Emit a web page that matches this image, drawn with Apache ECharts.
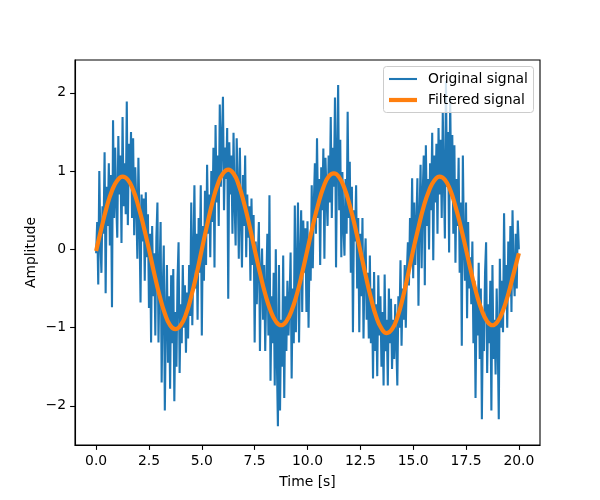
<!DOCTYPE html>
<html>
<head>
<meta charset="utf-8">
<script src="https://cdn.jsdelivr.net/npm/echarts@6/dist/echarts.min.js"></script>
<style>html,body{margin:0;padding:0;background:#fff}#c{width:600px;height:500px}</style>
</head>
<body>
<div id="c"></div>
<script>
// Sampling step of the original signal (s)
const sampleStep = 0.05;
// Original (noisy) signal, one value every 0.05 s from 0 to 20 s
const originalSignal = [
-0.05,0.35,-0.45,1.00,0.10,-0.30,0.55,0.20,1.24,-0.56,0.80,0.30,1.10,0.05,0.95,-0.74,1.65,0.40,1.30,0.60,
0.15,1.45,0.70,1.20,0.08,1.69,0.55,1.10,0.45,1.89,0.31,1.35,0.85,1.50,0.40,1.42,0.18,1.05,0.60,-0.12,
1.17,0.35,-0.68,0.70,0.10,0.65,-0.40,0.73,-0.10,0.45,-0.75,
0.20,-1.19,0.30,-0.60,-0.05,-1.10,0.15,0.60,-1.19,-0.30,0.35,-1.70,-0.55,0.05,-2.06,-0.90,-0.20,-1.45,-0.60,
-1.78,-0.33,-1.20,-0.25,-1.94,-0.80,-1.50,-0.40,0.09,-1.58,-0.70,-1.20,-0.20,-1.00,-0.46,-1.32,-0.55,-1.14,-0.20,-0.85,
0.60,-0.97,-0.10,0.82,-0.50,0.20,-0.90,0.40,-0.30,0.82,-1.10,
0.30,-0.40,0.75,-0.20,1.08,0.20,0.70,-0.10,1.00,0.35,1.30,-0.23,1.59,0.60,1.20,0.30,1.85,0.80,1.40,1.95,
0.50,1.30,0.90,1.55,-0.63,1.37,0.70,1.20,0.20,1.49,0.60,0.05,1.42,0.80,-0.12,1.30,0.40,-0.23,0.95,0.30,
1.20,-0.10,0.70,0.15,0.55,-0.40,0.65,-0.20,0.44,-1.19,
0.10,-0.70,-0.10,0.35,-1.30,-0.30,0.01,-0.90,-0.20,-1.30,-0.50,0.20,-1.10,0.69,-1.68,-0.60,-1.20,-0.30,-1.74,0.00,
-1.40,-2.26,-0.20,-2.06,-0.90,-1.50,-0.08,-1.90,-0.60,-1.30,-0.40,-1.10,-0.70,-0.04,-1.65,-0.50,-1.20,0.56,-1.06,-0.30,
0.60,-1.19,-0.10,0.50,-0.80,0.37,-0.30,0.27,-0.80,0.36,
-1.00,0.10,-0.40,0.82,-0.24,0.60,1.10,0.20,1.42,0.40,0.90,-0.20,1.05,0.50,1.29,-0.12,1.17,0.70,0.30,1.20,
0.60,1.69,0.40,1.30,0.80,1.94,-0.23,1.20,2.10,0.50,1.40,-0.10,0.99,0.30,-0.08,0.90,0.20,1.76,0.40,1.12,
-0.30,0.80,-1.06,0.50,0.10,0.82,-0.50,0.40,-1.06,0.20,
-0.60,0.40,-1.14,-0.20,0.14,-0.90,-0.30,-1.14,-0.08,-1.20,-0.50,-1.65,-0.29,-1.30,-0.70,-1.62,-0.33,-1.10,-0.60,-1.50,
-0.80,-1.74,-0.32,-1.30,-0.90,-1.74,-0.50,-1.20,-0.63,-1.53,-0.90,-1.40,-0.70,-1.20,-1.74,-0.60,-1.00,-0.14,-1.23,-0.50,
-0.90,-0.20,-1.00,-0.30,0.09,-0.46,0.40,-0.20,0.91,-0.37,
0.60,-0.20,0.30,0.91,-0.72,0.40,1.08,-0.24,0.70,1.20,-0.46,1.33,0.30,0.90,0.00,1.10,0.50,1.49,-0.14,1.20,
0.60,1.35,0.20,1.55,0.70,1.40,0.40,1.75,0.90,0.14,2.15,0.80,1.50,-0.04,1.95,0.69,1.46,0.20,1.33,-0.17,
0.90,0.30,1.17,-0.30,0.60,-1.23,1.20,0.10,-0.40,0.60,
-0.88,0.35,-0.50,-0.10,-0.70,0.10,-1.20,-0.40,-1.90,-0.60,-1.10,-0.17,-1.40,-0.50,-2.17,-0.80,-1.30,-0.30,0.09,-1.58,
-0.70,-1.20,-0.40,-2.06,-0.20,-1.40,-0.90,-1.60,-0.50,-1.20,-2.17,-0.12,-1.00,-0.40,-1.06,0.46,-0.70,-0.20,-1.00,0.10,
-0.60,0.30,-0.80,0.50,-0.30,-0.60,0.20,-0.50,0.37,0.00
];
// Filtered signal, one value every 0.25 s from 0 to 20 s
const filteredStep = 0.25;
const filteredSignal = [
-0.02,0.27,0.54,0.75,0.88,0.93,0.89,0.76,0.55,0.29,0.00,
-0.31,-0.59,-0.82,-0.97,-1.02,-0.97,-0.83,-0.60,-0.32,0.00,
0.31,0.60,0.83,0.97,1.02,0.97,0.82,0.59,0.31,0.00,
-0.30,-0.57,-0.78,-0.92,-0.97,-0.92,-0.78,-0.57,-0.30,0.00,
0.30,0.57,0.79,0.93,0.97,0.92,0.78,0.56,0.29,-0.02,
-0.33,-0.62,-0.86,-1.01,-1.07,-1.02,-0.87,-0.63,-0.33,-0.01,
0.28,0.55,0.75,0.88,0.93,0.89,0.76,0.55,0.29,0.00,
-0.30,-0.57,-0.78,-0.92,-0.97,-0.92,-0.78,-0.57,-0.31,-0.05
];
const xTicks = [0, 2.5, 5, 7.5, 10, 12.5, 15, 17.5, 20];
const yTicks = [-2, -1, 0, 1, 2];
const seriesNames = ['Original signal', 'Filtered signal'];

const origData = originalSignal.map((v, i) => [+(i * sampleStep).toFixed(2), v]);
const filtData = filteredSignal.map((v, i) => [+(i * filteredStep).toFixed(2), v]);

const font = 'DejaVu Sans';
const chart = echarts.init(document.getElementById('c'), null, {renderer: 'canvas'});
chart.setOption({
  animation: false,
  backgroundColor: '#ffffff',
  textStyle: {fontFamily: font},
  grid: {left: 75, right: 60, top: 60, bottom: 55, show: true, borderColor: '#000', borderWidth: 1.1, backgroundColor: 'transparent'},
  xAxis: {
    type: 'value', min: -1, max: 21,
    name: 'Time [s]', nameLocation: 'middle', nameGap: 30,
    nameTextStyle: {fontSize: 13.9, color: '#000', fontFamily: font},
    axisLine: {show: true, onZero: false, lineStyle: {color: '#000', width: 1.1}},
    axisTick: {show: true, length: 4.9, lineStyle: {color: '#000', width: 1.1}, customValues: xTicks},
    axisLabel: {color: '#000', fontSize: 13.9, fontFamily: font, margin: 9, customValues: xTicks,
      formatter: v => v.toFixed(1)},
    splitLine: {show: false}
  },
  yAxis: {
    type: 'value', min: -2.5, max: 2.42,
    name: 'Amplitude', nameLocation: 'middle', nameGap: 37, nameMoveOverlap: false,
    nameTextStyle: {fontSize: 13.9, color: '#000', fontFamily: font},
    axisLine: {show: true, onZero: false, lineStyle: {color: '#000', width: 1.1}},
    axisTick: {show: true, length: 4.9, lineStyle: {color: '#000', width: 1.1}, customValues: yTicks},
    axisLabel: {color: '#000', fontSize: 13.9, fontFamily: font, margin: 9, customValues: yTicks,
      formatter: v => (v < 0 ? '\u2212' + Math.abs(v) : String(v))},
    splitLine: {show: false}
  },
  graphic: [{
    type: 'rect', z: 10, left: 383, top: 66,
    shape: {width: 150, height: 46, r: 3},
    style: {fill: 'rgba(255,255,255,0.8)', stroke: '#cccccc', lineWidth: 1}
  }],
  legend: [
    {data: [seriesNames[0]], left: 384, top: 67, z: 20, icon: 'rect', itemWidth: 28, itemHeight: 2.1, itemGap: 0,
      textStyle: {fontSize: 13.9, color: '#000', fontFamily: font, padding: [0,0,0,6]}, selectedMode: false},
    {data: [seriesNames[1]], left: 384, top: 88, z: 20, icon: 'rect', itemWidth: 28, itemHeight: 4.2, itemGap: 0,
      textStyle: {fontSize: 13.9, color: '#000', fontFamily: font, padding: [0,0,0,6]}, selectedMode: false}
  ],
  series: [
    {name: seriesNames[0], type: 'line', data: origData, showSymbol: false, symbol: 'none',
      lineStyle: {color: '#1f77b4', width: 2.1}, itemStyle: {color: '#1f77b4'}, z: 2},
    {name: seriesNames[1], type: 'line', data: filtData, showSymbol: false, symbol: 'none', smooth: true,
      lineStyle: {color: '#ff7f0e', width: 4.2}, itemStyle: {color: '#ff7f0e'}, z: 3}
  ]
});
</script>
</body>
</html>
